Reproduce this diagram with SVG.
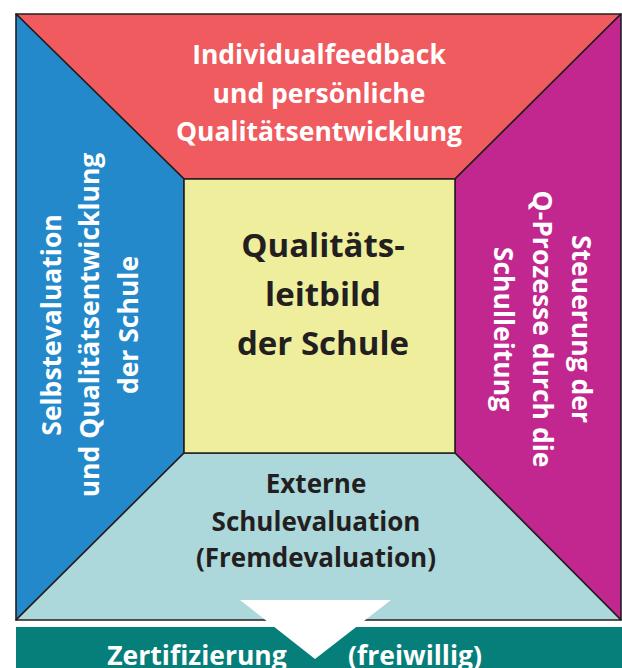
<svg xmlns="http://www.w3.org/2000/svg" width="622" height="668" viewBox="0 0 622 668">
<style>
.edge{stroke:#231f20;stroke-width:1.6;stroke-linejoin:round}
.t{font-family:"Open Sans","Noto Sans","Liberation Sans",sans-serif;font-weight:bold;text-anchor:middle}
.w{fill:#ffffff}
.d{fill:#231f20}
</style>
<rect x="0" y="0" width="622" height="668" fill="#ffffff"/>
<g id="top">
<polygon class="edge" points="16,14 621,14 455,179 184,179" fill="#ef5b5f"/>
<text class="t w" font-size="26.5"><tspan x="319" y="64">Individualfeedback</tspan><tspan x="319" y="103">und persönliche</tspan><tspan x="319" y="141">Qualitätsentwicklung</tspan></text>
</g>
<g id="left">
<polygon class="edge" points="16,14 184,179 184,453 16,620" fill="#2389cb"/>
<text class="t w" font-size="26.5" transform="translate(0,325) rotate(-90)"><tspan x="0" y="61">Selbstevaluation</tspan><tspan x="0" y="99">und Qualitätsentwicklung</tspan><tspan x="0" y="138">der Schule</tspan></text>
</g>
<g id="right">
<polygon class="edge" points="621,14 621,620 455,453 455,179" fill="#c1278f"/>
<text class="t w" font-size="26.5" transform="translate(0,329) rotate(90)"><tspan x="0" y="-572">Steuerung der</tspan><tspan x="0" y="-533">Q-Prozesse durch die</tspan><tspan x="0" y="-494">Schulleitung</tspan></text>
</g>
<g id="bottom">
<polygon class="edge" points="184,453 455,453 621,620 16,620" fill="#acd8dc"/>
<text class="t d" font-size="26"><tspan x="316" y="493">Externe</tspan><tspan x="316" y="531">Schulevaluation</tspan><tspan x="316" y="567">(Fremdevaluation)</tspan></text>
</g>
<g id="center">
<rect class="edge" x="184" y="179" width="271" height="274" fill="#eeee9c"/>
<text class="t d" font-size="33"><tspan x="323" y="257">Qualitäts-</tspan><tspan x="323" y="306">leitbild</tspan><tspan x="323" y="355">der Schule</tspan></text>
</g>
<g id="certification">
<rect x="16" y="627" width="606" height="41" fill="#067e7a"/>
<text class="t w" font-size="26.5"><tspan x="197" y="665">Zertifizierung</tspan><tspan x="415" y="665">(freiwillig)</tspan></text>
</g>
<g id="connectors">
<polygon points="240,600 391,600 315,659" fill="#ffffff"/>
</g>
</svg>
